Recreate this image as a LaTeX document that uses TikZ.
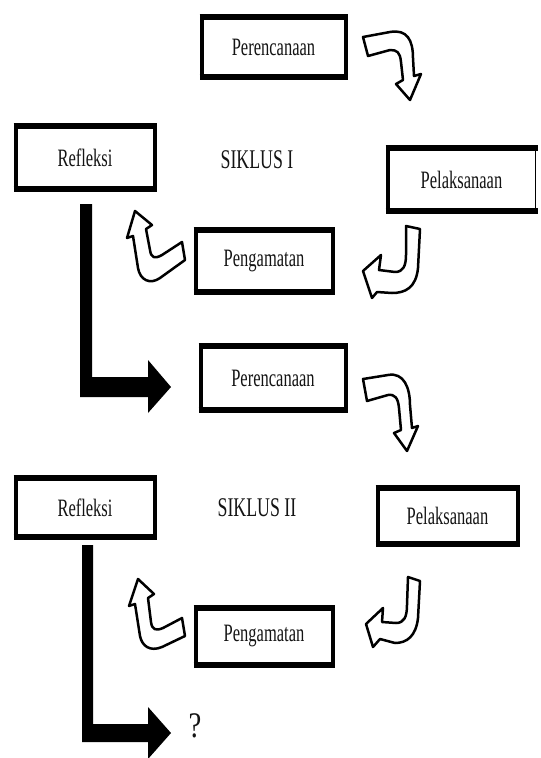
\documentclass[tikz,border=0pt]{standalone}
\usepackage{fontspec}
\setmainfont{Liberation Serif}
\newfontfamily\boxfont{Liberation Serif}[FakeStretch=0.66]
\newfontfamily\qmfont{Liberation Serif}[FakeStretch=0.8]
\usetikzlibrary{calc}
\begin{document}
\begin{tikzpicture}[x=1pt,y=-1pt,
  box/.style={draw, line width=4pt, inner sep=0pt, outer sep=0pt, fill=white,
    font=\boxfont\fontsize{25}{28}\selectfont, text=black!92},
  lbl/.style={font=\boxfont\fontsize{27}{30}\selectfont, text=black!92},
  hook/.style={draw, line width=2.5pt, fill=white, line join=round},
  bar/.style={fill=black}
]
\useasboundingbox (0,0) rectangle (541,758);

% boxes
\node[box, minimum width=144pt, minimum height=60pt] (per1) at (273.5,47) {Perencanaan};
\node[box, minimum width=139pt, minimum height=63pt] (ref1) at (85,157.5) {Refleksi};
\node[box, draw=none, minimum width=148pt, minimum height=63pt] (pel1) at (461.5,179.5) {Pelaksanaan};
\node[box, minimum width=137pt, minimum height=62pt] (pen1) at (264,261) {Pengamatan};
\node[box, minimum width=145pt, minimum height=64pt] (per2) at (273,378) {Perencanaan};
\node[box, minimum width=139pt, minimum height=59pt] (ref2) at (85,507.5) {Refleksi};
\node[box, minimum width=140pt, minimum height=56pt] (pel2) at (447.5,516) {Pelaksanaan};
\node[box, minimum width=137pt, minimum height=57pt] (pen2) at (264,636.5) {Pengamatan};

\node[lbl] (s1) at (257,160) {SIKLUS I};
\node[lbl] (s2) at (257,508) {SIKLUS II};
\node[font=\qmfont\fontsize{36}{38}\selectfont, text=black!92] (qm) at (195,726) {?};

% pel1 border: thin right side
\draw[line width=4pt] (pel1.north east) -- (pel1.north west) -- (pel1.south west) -- (pel1.south east);
\draw[line width=1.5pt] (pel1.north east) -- (pel1.south east);

% heavier top and bottom edges
\foreach \n in {per1,ref1,pel1,pen1,per2,ref2,pel2,pen2}{
  \draw[line width=6.5pt] ([xshift=-2pt]\n.north west) -- ([xshift=2pt]\n.north east);
  \draw[line width=6.5pt] ([xshift=-2pt]\n.south west) -- ([xshift=2pt]\n.south east);
}

% hollow curved arrows, cycle I
\draw[hook] (363,37) -- (390,32) .. controls (407,29) and (413,40) .. (413,58) -- (414,76)
  -- (421,74) -- (410,100) -- (396,84) -- (403,80) -- (401,62)
  .. controls (400,52) and (397,50) .. (390,50) -- (368,56) -- cycle;
\draw[hook] (406,226) -- (420,229) -- (418,268) .. controls (416,288) and (405,293) .. (392,293)
  -- (377,292) -- (372,298) -- (363,271) -- (381,255) -- (379,270) -- (395,272)
  .. controls (403,272) and (406,266) .. (406,255) -- cycle;
\draw[hook] (182,242) -- (185,260) -- (160,278) .. controls (150,285) and (140,280) .. (138,268)
  -- (133,236) -- (127,238) -- (135,211) -- (152,225) -- (146,229) -- (150,250)
  .. controls (151,258) and (155,259) .. (162,255) -- cycle;

% hollow curved arrows, cycle II
\draw[hook] (363,379) -- (388,375) .. controls (404,372) and (410,388) .. (410,405) -- (412,428)
  -- (418,426) -- (407,451) -- (394,433) -- (401,430) -- (399,408)
  .. controls (398,398) and (395,394) .. (388,395) -- (367,401) -- cycle;
\draw[hook] (408,577) -- (420,581) -- (418,618) .. controls (416,636) and (407,643) .. (395,643)
  -- (380,639) -- (373,647) -- (366,624) -- (383,608) -- (382,622) -- (396,623)
  .. controls (404,623) and (407,617) .. (407,605) -- cycle;
\draw[hook] (182,618) -- (185,636) -- (162,647) .. controls (150,652) and (142,646) .. (140,636)
  -- (135,604) -- (129,606) -- (138,579) -- (154,594) -- (148,598) -- (151,622)
  .. controls (152,630) and (156,631) .. (163,628) -- cycle;

% thick L arrows
\coordinate (q1) at (171,387);
\coordinate (q2) at (171,733);
\fill[bar] ($(ref1.south)+(-5,15)$) -- ($(ref1.south)+(7,15)$) -- ($(ref1.south |- q1)+(7,-10)$)
  -- ($(q1)+(-23,-10)$) -- ($(q1)+(-23,-27)$) -- (q1) -- ($(q1)+(-23,26)$) -- ($(q1)+(-23,10)$)
  -- ($(ref1.south |- q1)+(-5,10)$) -- cycle;
\fill[bar] ($(ref2.south)+(-3,8)$) -- ($(ref2.south)+(8,8)$) -- ($(ref2.south |- q2)+(8,-9)$)
  -- ($(q2)+(-23,-9)$) -- ($(q2)+(-23,-26)$) -- (q2) -- ($(q2)+(-23,26)$) -- ($(q2)+(-23,9)$)
  -- ($(ref2.south |- q2)+(-3,9)$) -- cycle;
\end{tikzpicture}
\end{document}
